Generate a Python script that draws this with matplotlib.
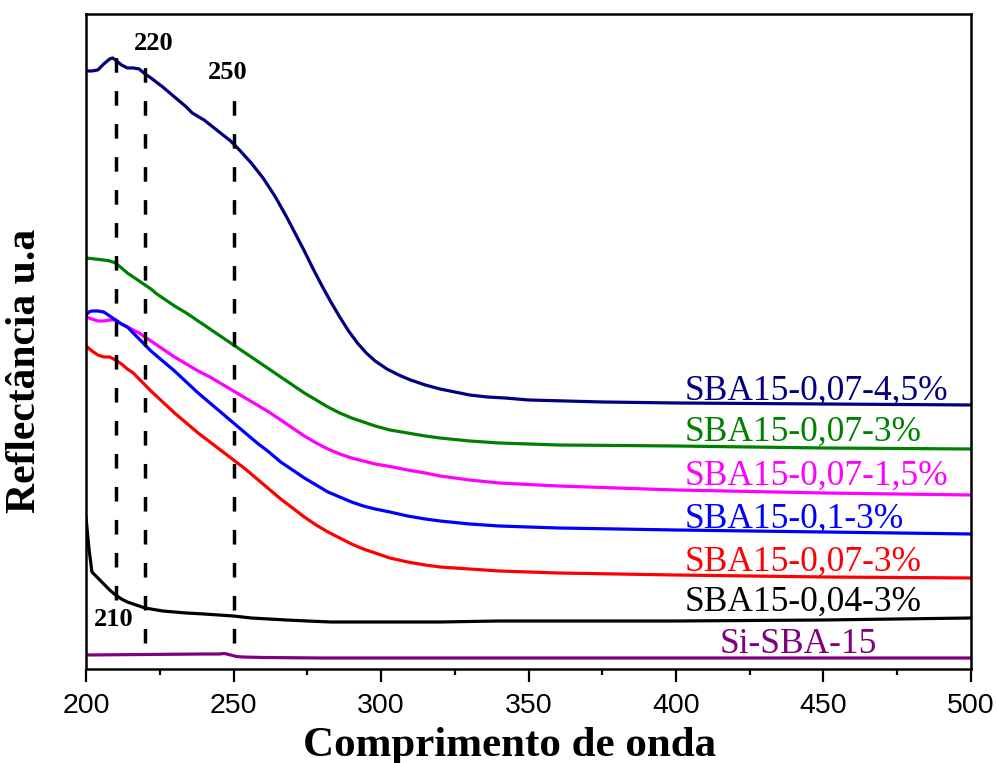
import matplotlib
matplotlib.use("Agg")
import matplotlib.pyplot as plt
from matplotlib.ticker import MultipleLocator

# Diffuse-reflectance UV-Vis spectra (arbitrary units, offset for clarity)
x_navy = [200, 202, 204, 206, 208, 209, 210, 212, 214, 216, 218, 220, 222, 226,
          230, 234, 236, 240, 243, 246, 249, 252, 256, 260, 264, 268, 271, 274,
          277, 280, 283, 286, 289, 292, 295, 298, 302, 306, 310, 315, 320, 325,
          330, 336, 342, 350, 375, 400, 450, 500]
y_navy = [5.98, 5.98, 5.99, 6.05, 6.10, 6.11, 6.09, 6.04, 6.01, 6.01, 6.00, 5.95,
          5.91, 5.82, 5.72, 5.62, 5.56, 5.49, 5.42, 5.35, 5.28, 5.19, 5.06, 4.91,
          4.73, 4.52, 4.35, 4.18, 4.00, 3.83, 3.67, 3.52, 3.38, 3.26, 3.16, 3.08,
          3.00, 2.94, 2.89, 2.84, 2.80, 2.77, 2.74, 2.72, 2.71, 2.69, 2.67, 2.66,
          2.65, 2.64]

x_green = [200, 203, 206, 208, 210, 212, 214, 216, 218, 220, 222, 224, 226, 230,
           234, 238, 242, 246, 250, 254, 258, 262, 266, 270, 274, 278, 282, 286,
           290, 294, 298, 303, 309, 315, 320, 330, 340, 360, 400, 450, 500]
y_green = [4.11, 4.10, 4.09, 4.08, 4.06, 4.01, 3.96, 3.92, 3.88, 3.84, 3.80, 3.75,
           3.71, 3.63, 3.56, 3.48, 3.40, 3.32, 3.24, 3.16, 3.08, 3.00, 2.92, 2.84,
           2.76, 2.69, 2.62, 2.56, 2.51, 2.47, 2.43, 2.39, 2.36, 2.33, 2.31, 2.28,
           2.26, 2.24, 2.23, 2.21, 2.20]

x_magenta = [200, 202, 204, 206, 208, 210, 212, 214, 216, 218, 220, 222, 226, 230,
             234, 238, 242, 246, 250, 254, 258, 262, 266, 270, 274, 278, 282, 286,
             290, 294, 298, 304, 309, 315, 320, 330, 340, 360, 380, 400, 450, 500]
y_magenta = [3.52, 3.50, 3.48, 3.48, 3.49, 3.49, 3.45, 3.42, 3.39, 3.36, 3.32,
             3.28, 3.20, 3.12, 3.05, 2.98, 2.92, 2.85, 2.78, 2.71, 2.64, 2.57,
             2.49, 2.41, 2.33, 2.26, 2.20, 2.15, 2.11, 2.08, 2.05, 2.02, 1.99,
             1.96, 1.93, 1.89, 1.86, 1.83, 1.81, 1.79, 1.76, 1.74]

x_blue = [200, 201, 202, 204, 206, 208, 210, 212, 214, 216, 218, 220, 222, 226,
          230, 234, 238, 242, 246, 250, 254, 258, 262, 266, 270, 274, 278, 282,
          286, 290, 294, 298, 303, 309, 315, 320, 330, 340, 360, 380, 400, 450, 500]
y_blue = [3.54, 3.57, 3.58, 3.58, 3.57, 3.53, 3.49, 3.45, 3.42, 3.36, 3.30, 3.24,
          3.18, 3.08, 2.98, 2.87, 2.76, 2.66, 2.56, 2.46, 2.36, 2.26, 2.17, 2.07,
          1.99, 1.91, 1.84, 1.77, 1.72, 1.67, 1.63, 1.60, 1.57, 1.53, 1.50, 1.48,
          1.45, 1.43, 1.41, 1.40, 1.39, 1.37, 1.35]

x_red = [200, 202, 204, 206, 208, 210, 212, 214, 216, 218, 220, 222, 226, 230,
         234, 238, 242, 246, 250, 254, 258, 262, 266, 270, 274, 278, 282, 286,
         290, 294, 298, 303, 309, 315, 320, 330, 340, 360, 380, 400, 450, 500]
y_red = [3.23, 3.18, 3.14, 3.12, 3.12, 3.09, 3.05, 3.00, 2.96, 2.90, 2.84, 2.78,
         2.67, 2.56, 2.46, 2.36, 2.27, 2.18, 2.09, 2.00, 1.90, 1.80, 1.70, 1.61,
         1.52, 1.44, 1.37, 1.31, 1.25, 1.20, 1.16, 1.11, 1.07, 1.04, 1.02, 1.00,
         0.98, 0.96, 0.95, 0.94, 0.92, 0.91]

x_black = [200, 201, 202, 204, 206, 208, 210, 212, 214, 216, 218, 220, 222, 226,
           230, 234, 240, 245, 250, 256, 262, 268, 275, 283, 300, 320, 340, 400,
           450, 500]
y_black = [1.51, 1.20, 0.97, 0.91, 0.85, 0.79, 0.74, 0.70, 0.67, 0.65, 0.63,
           0.61, 0.60, 0.58, 0.57, 0.56, 0.55, 0.54, 0.53, 0.51, 0.50, 0.49,
           0.48, 0.47, 0.47, 0.47, 0.48, 0.48, 0.49, 0.51]

x_purple = [200, 220, 240, 245, 247, 249, 251, 253, 260, 280, 300, 400, 500]
y_purple = [0.14, 0.145, 0.15, 0.15, 0.155, 0.14, 0.125, 0.12, 0.115, 0.11,
            0.11, 0.11, 0.11]

series = [
    ("SBA15-0,07-4,5%", x_navy, y_navy, "#000080"),
    ("SBA15-0,07-3%", x_green, y_green, "#008000"),
    ("SBA15-0,07-1,5%", x_magenta, y_magenta, "#ff00ff"),
    ("SBA15-0,1-3%", x_blue, y_blue, "#0000ff"),
    ("SBA15-0,07-3%", x_red, y_red, "#ff0000"),
    ("SBA15-0,04-3%", x_black, y_black, "#000000"),
    ("Si-SBA-15", x_purple, y_purple, "#800080"),
]

# Label anchor (x, y) for each curve name
label_x = [403, 403, 403, 403, 403, 403, 441.5]
label_y = [2.78, 2.37, 1.93, 1.50, 1.07, 0.67, 0.24]

# Reference wavelengths marked with dashed lines
ref_wl = [210, 220, 250]
ref_top = [6.22, 6.11, 5.81]
ref_bottom = [0.69, 0.26, 0.26]
ref_text_x = [209.5, 222.9, 248.1]
ref_text_y = [0.49, 6.25, 5.96]

serif = ["Liberation Serif", "DejaVu Serif"]
sans = ["Liberation Sans", "DejaVu Sans"]

fig = plt.figure(figsize=(9.97, 7.63), dpi=100)
ax = fig.add_axes([0.0863, 0.1232, 0.8876, 0.8585])

for (name, xs, ys, col), lx, ly in zip(series, label_x, label_y):
    ax.plot(xs, ys, color=col, lw=2.3, solid_joinstyle="round")
    ha = "center" if name.startswith("Si") else "left"
    ax.text(lx, ly, name, color=col, fontsize=25.5, family=serif,
            ha=ha, va="center")

for wl, top, bot, tx, ty in zip(ref_wl, ref_top, ref_bottom, ref_text_x, ref_text_y):
    ax.plot([wl, wl], [bot, top], color="black", lw=2.5,
            linestyle=(0, (4.2, 5.3)))
    ax.text(tx, ty, str(wl), fontsize=19, fontweight="bold", family=serif,
            ha="center", va="center")

ax.set_xlim(200, 500)
ax.set_ylim(0, 6.55)
ax.xaxis.set_major_locator(MultipleLocator(50))
ax.xaxis.set_minor_locator(MultipleLocator(25))
ax.set_yticks([])
ax.tick_params(axis="x", which="major", direction="out", length=9, width=1.6,
               pad=8, labelsize=20.5)
ax.tick_params(axis="x", which="minor", direction="out", length=4.5, width=1.6)
for lab in ax.get_xticklabels():
    lab.set_family(sans)
for sp in ax.spines.values():
    sp.set_linewidth(1.8)

ax.set_xlabel("Comprimento de onda", fontsize=31, fontweight="bold",
              family=serif)
ax.set_ylabel("Reflectância u.a", fontsize=30, fontweight="bold",
              family=serif)
ax.xaxis.set_label_coords(0.479, -0.088)
ax.yaxis.set_label_coords(-0.047, 0.455)

fig.savefig("out.png", dpi=100)
